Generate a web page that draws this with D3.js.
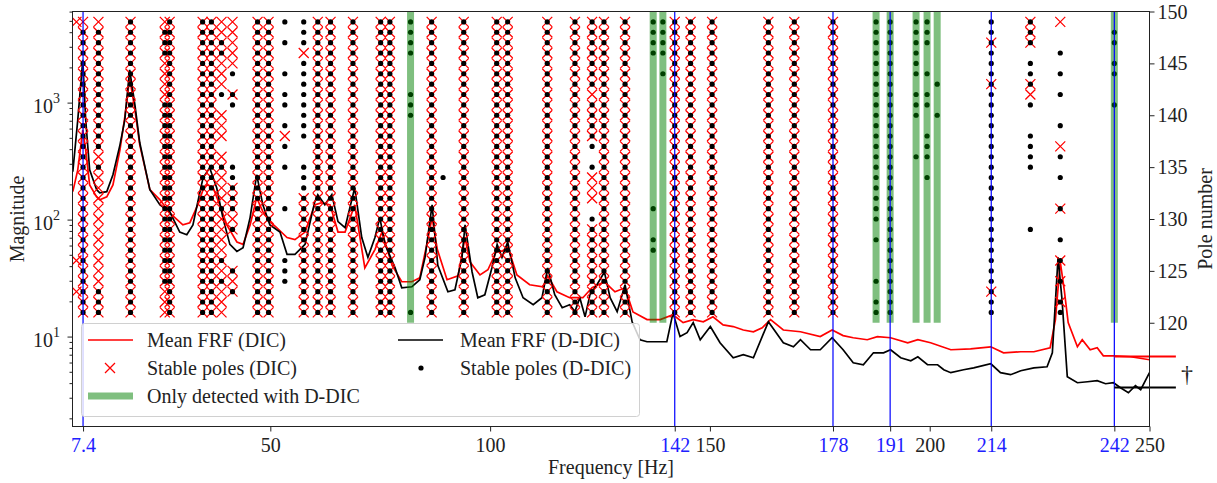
<!DOCTYPE html>
<html>
<head>
<meta charset="utf-8">
<script src="https://cdn.jsdelivr.net/npm/d3@7"></script>
<style>
body { margin: 0; background: #fff; }
text { font-family: "Liberation Serif", "DejaVu Serif", serif; fill: #222; }
</style>
</head>
<body>
<div id="vis"></div>
<script>
// mean FRF, [frequency Hz, magnitude]
var frfDIC = [[5.07,175],[6.2,269],[7.34,590],[8.0,399],[8.9,200],[10.5,158],[11.2,149],[12.8,158],[14.2,200],[15.8,399],[16.9,764],[18.0,1645],[19.2,877],[20.3,440],[22.6,182],[24.9,149],[27.1,115],[30.1,91],[31.7,95],[33.5,135],[34.7,182],[35.6,200],[36.9,193],[38.5,135],[40.1,91],[42.4,65],[43.8,62],[45.4,91],[46.9,155],[48.3,118],[49.9,97],[51.5,86],[53.8,71],[55.6,68],[57.9,79],[60.1,135],[61.7,141],[63.6,135],[65.4,79],[67.0,79],[69.2,135],[71.5,39],[73.8,56],[75.4,79],[77.7,41],[79.9,29.7],[82.2,29.7],[84.0,32.1],[85.6,62],[86.8,105],[88.0,56],[90.2,30.9],[92.7,33.4],[94.3,71],[95.4,44],[97.7,34],[99.5,37.6],[101.6,55.7],[102.7,54],[104.0,59.2],[106.1,34],[109.0,28],[112.0,26.9],[113.1,33.4],[115.2,24.4],[118.1,21.7],[121.1,21.7],[123.2,26.4],[126.0,29.7],[128.4,24.4],[130.7,26.4],[132.5,16.4],[135.7,14.1],[138.7,14.1],[141.6,15.5],[143.9,13.3],[146.2,14.1],[148.5,13.5],[150.7,14.9],[153.0,12.7],[155.3,12.3],[157.6,11.5],[159.9,11.1],[161.9,12.0],[163.8,14.1],[166.7,11.5],[170.6,11.1],[175.1,10.1],[177.8,11.5],[180.3,10.3],[182.6,9.87],[185.8,9.49],[188.1,10.1],[191.1,9.87],[195.0,8.94],[197.3,9.49],[200.2,8.94],[204.8,7.79],[209.3,7.94],[213.9,8.26],[216.8,7.34],[220.7,7.49],[223.7,7.49],[227.4,8.10],[228.6,14.1],[229.7,44],[230.6,25.4],[231.5,13.3],[233.6,8.26],[234.7,9.49],[236.5,7.79],[238.1,8.10],[239.5,6.92],[241.8,6.92],[245.7,6.79],[250,6.40]];

var frfDDIC = [[5.07,259],[6.2,720],[7.34,2344],[8.0,720],[8.9,269],[10.5,182],[11.2,171],[12.8,175],[14.2,244],[15.8,440],[16.9,720],[18.0,1928],[19.2,966],[20.3,458],[22.6,182],[24.9,135],[27.1,118],[29.4,79],[31.0,75],[32.4,91],[33.5,143],[34.7,230],[36.2,280],[37.8,189],[39.2,105],[40.8,62],[42.4,54],[43.8,58],[45.4,105],[46.9,244],[48.3,135],[49.9,91],[52.2,79],[53.8,51],[55.6,51],[57.9,62],[60.1,143],[60.8,165],[62.4,135],[64.0,165],[65.4,97],[67.0,86],[69.2,189],[70.8,71],[72.2,48],[73.8,71],[74.9,105],[76.1,62],[78.4,39],[79.9,26.4],[82.2,26.9],[84.0,30.9],[85.2,48],[86.8,135],[88.1,41],[90.4,24.4],[92.0,25.4],[93.6,48],[94.3,91],[95.9,36],[97.2,21.7],[98.8,23],[100.4,39],[101.6,62],[102.7,48],[104.0,65],[105.7,32.1],[107.5,21.7],[109.8,18.9],[111.8,21.7],[113.1,39],[114.7,23],[116.4,17.8],[118.1,18.9],[119.3,16.5],[120.4,21.7],[121.6,14.9],[122.7,23],[124.3,28],[126.0,36],[127.3,21.7],[128.9,16.5],[130.7,28],[132.3,13.5],[134.1,9.49],[135.7,9.12],[140.2,9.12],[141.6,16.1],[143.2,10.1],[144.8,10.9],[146.2,13.3],[147.8,9.49],[150.1,12.3],[152.3,8.94],[155.3,6.66],[157.6,7.06],[159.9,6.66],[163.3,13.5],[166.7,8.94],[169.0,8.26],[170.6,9.49],[172.9,7.79],[175.1,7.79],[177.8,9.87],[180.3,7.79],[182.6,6.03],[184.9,5.80],[187.2,7.34],[189.5,7.34],[191.1,7.79],[193.4,6.66],[195.7,6.27],[197.3,6.79],[199.5,5.80],[201.8,5.80],[203.2,5.26],[204.8,4.96],[207.7,5.26],[210.0,5.46],[213.9,5.91],[216.1,4.96],[218.4,4.77],[220.7,5.15],[223.7,5.46],[226.7,5.57],[227.9,7.34],[229.2,48],[230.1,20.9],[231.3,4.58],[233.6,4.07],[235.9,4.15],[238.1,4.24],[240.0,3.99],[241.8,4.07],[243.4,3.69],[245.2,3.34],[246.8,3.84],[248.0,3.55],[250,4.96]];

// the two short level lines marked with a dagger, from 242 Hz out past the axis
var daggerLevels = [6.82, 3.71];
var daggerFrom = 242, daggerTo = 256;

// stabilisation diagram: one entry per pole column, pole numbers as ranges
var poleFreqs = [5.9, 7.4, 10.9, 18.2, 26.0, 27.1, 34.6, 36.6, 38.9, 41.4, 47.1, 49.6, 53.3, 57.6, 60.8, 63.7, 68.8, 75.1, 77.2, 81.9, 86.7, 89.3, 94.0, 101.5, 104.0, 113.0, 119.3, 123.2, 125.9, 130.7, 137.1, 139.3, 142, 145.6, 150.5, 163.3, 169.2, 178, 187.8, 191, 196.9, 199.4, 201.7, 214, 222.9, 229.7, 242];
var dicPoles = ["123,126,149", "121-149", "121-149", "121-149", "121-149", "121-149", "121-149", "121-149", "121-136,138-140,143-149", "123-125,129-133,142,145-149", "121-149", "121-149", "138", "121-132,146", "121-149", "121-149", "121-149", "121-149", "121-149", "", "121-149", "", "121-149", "121-149", "121-149", "121-149", "121-149", "121-129,132-134,138-149", "121-149", "121-149", "", "", "121-149", "121-149", "121-149", "121-149", "121-149", "121-149", "", "", "", "", "", "123,143,147", "142,143,147-149", "122,124,126,131,137,149", ""];
var ddicPoles = ["", "121-148", "121-123,135,137-148", "121-149", "124-141,146-148", "121-149", "121-149", "121-149", "124,126,131,135,142,146,147", "123,125,129,131-135,141,142,144", "121-149", "121-149", "124-126,131,135,137,139,141,142,144,147,149", "121-135,138-145,147-149", "121-149", "121-149", "121-149", "121-149", "121-149", "121,140-142,146-149", "121-149", "134", "121-149", "121-149", "121-149", "121-149", "121-149", "121-130,135,137-141,143-149", "121-149", "121-149", "127,128,131,146-149", "144,146-149", "121-149", "121-149", "121-149", "121-149", "121-149", "121-149", "121,122,124,128,130-149", "121-149", "136,140-142,144-149", "134,136-138,141,142,144,147-149", "140,143", "121-149", "129,135-138,141,143-145,147-149", "121,122,124,126,128,131,134,136,139,142,144,146", "141,144,145,147,148"];

// modes only found with D-DIC (green) and the highlighted modes (blue)
var greenFreqs = [81.9, 137.1, 139.3, 187.8, 191, 196.9, 199.4, 201.7, 242];
var markedFreqs = [7.4, 142, 178, 191, 214, 242];

var xTicks = [7.4, 50, 100, 142, 150, 178, 191, 200, 214, 242, 250];
var poleTicks = [120, 125, 130, 135, 140, 145, 150];
var magTicks = [10, 100, 1000];
var magExp = ["1", "2", "3"];


var width = 1217;
var height = 483;
var L = 72.5, R = 1149.5, T = 11.5, B = 426.5;
var FS = "20px";

var expand = function(s) {
  var out = [];
  if (!s) return out;
  s.split(",").forEach(function(part) {
    var ab = part.split("-").map(Number);
    if (ab.length === 1) {
      out.push(ab[0]);
    } else {
      for (var p = ab[0]; p <= ab[1]; p++) out.push(p);
    }
  });
  return out;
};

var svg = d3.select("#vis").append("svg").attr("width", width).attr("height", height);

var x = d3.scaleLinear().domain([5, 250]).range([L, R]);
var yMag = d3.scaleLog().domain([1.72, 6070]).range([B, T]);
var yPole = d3.scaleLinear().domain([110, 150]).range([B, T]);

svg.append("defs").append("clipPath").attr("id", "plotclip")
  .append("rect").attr("x", L).attr("y", T).attr("width", R - L).attr("height", B - T);

var plot = svg.append("g").attr("clip-path", "url(#plotclip)");

// FRF curves
var line = d3.line().x(function(d) { return x(d[0]); }).y(function(d) { return yMag(d[1]); });
plot.append("path").datum(frfDIC).attr("d", line)
  .style("fill", "none").style("stroke", "#ff0000").style("stroke-width", 1.7);
plot.append("path").datum(frfDDIC).attr("d", line)
  .style("fill", "none").style("stroke", "#000").style("stroke-width", 1.7);

// stable poles
var dicPts = [], ddicPts = [];
poleFreqs.forEach(function(f, i) {
  expand(dicPoles[i]).forEach(function(p) { dicPts.push([f, p]); });
  expand(ddicPoles[i]).forEach(function(p) { ddicPts.push([f, p]); });
});

plot.selectAll(".xmark").data(dicPts).enter().append("path")
  .attr("class", "xmark")
  .attr("transform", function(d) { return "translate(" + x(d[0]) + "," + yPole(d[1]) + ")"; })
  .attr("d", "M-5,-5L5,5M-5,5L5,-5")
  .style("fill", "none").style("stroke", "#ff0000").style("stroke-width", 1.25);

plot.selectAll(".dot").data(ddicPts).enter().append("circle")
  .attr("class", "dot")
  .attr("cx", function(d) { return x(d[0]); })
  .attr("cy", function(d) { return yPole(d[1]); })
  .attr("r", 2.6)
  .style("fill", "#000");

// only detected with D-DIC
plot.selectAll(".only").data(greenFreqs).enter().append("line")
  .attr("class", "only")
  .attr("x1", function(d) { return x(d); }).attr("x2", function(d) { return x(d); })
  .attr("y1", yPole(120)).attr("y2", yPole(150))
  .style("stroke", "#008000").style("stroke-opacity", 0.5).style("stroke-width", 7);

// highlighted modes
plot.selectAll(".marked").data(markedFreqs).enter().append("line")
  .attr("class", "marked")
  .attr("x1", function(d) { return x(d); }).attr("x2", function(d) { return x(d); })
  .attr("y1", T).attr("y2", B)
  .style("stroke", "#0000ff").style("stroke-width", 1.2);

// dagger lines (drawn outside the axes on purpose)
svg.selectAll(".dagger").data(daggerLevels).enter().append("line")
  .attr("x1", x(daggerFrom)).attr("x2", x(daggerTo))
  .attr("y1", function(d) { return yMag(d); }).attr("y2", function(d) { return yMag(d); })
  .style("stroke", function(d, i) { return i === 0 ? "#ff0000" : "#000"; })
  .style("stroke-width", 2);
svg.append("text").attr("x", 1187).attr("y", 382).attr("text-anchor", "middle")
  .style("font-size", "24px").text("\u2020");

// frame
svg.append("rect").attr("x", L).attr("y", T).attr("width", R - L).attr("height", B - T)
  .style("fill", "none").style("stroke", "#222").style("stroke-width", 1);

// bottom axis
var xAxis = svg.append("g").attr("transform", "translate(0," + B + ")")
  .call(d3.axisBottom(x).tickValues(xTicks).tickSize(5).tickFormat(function(d) { return d; }));
xAxis.select(".domain").remove();
xAxis.selectAll("line").style("stroke", "#222");
xAxis.selectAll("text")
  .attr("y", 25).attr("dy", 0)
  .style("font-size", FS)
  .style("font-family", "Liberation Serif")
  .style("fill", function(d) { return markedFreqs.indexOf(d) !== -1 ? "#2020ff" : "#222"; });

// left log axis, minor ticks
var minor = [];
[1, 10, 100, 1000].forEach(function(dec) {
  for (var k = 2; k <= 9; k++) {
    var v = dec * k;
    if (v > 1.72 && v < 6070) minor.push(v);
  }
});
svg.selectAll(".minor").data(minor).enter().append("line")
  .attr("x1", L - 3).attr("x2", L)
  .attr("y1", function(d) { return yMag(d); }).attr("y2", function(d) { return yMag(d); })
  .style("stroke", "#222");
svg.selectAll(".major").data(magTicks).enter().append("line")
  .attr("x1", L - 5).attr("x2", L)
  .attr("y1", function(d) { return yMag(d); }).attr("y2", function(d) { return yMag(d); })
  .style("stroke", "#222");
var magLabels = svg.selectAll(".maglab").data(magTicks).enter().append("text")
  .attr("x", 60).attr("y", function(d) { return yMag(d) + 10; })
  .attr("text-anchor", "end")
  .style("font-size", FS);
magLabels.append("tspan").text("10");
magLabels.append("tspan").attr("dy", -10).style("font-size", "14px")
  .text(function(d, i) { return magExp[i]; });

// right pole axis
var yAxis = svg.append("g").attr("transform", "translate(" + R + ",0)")
  .call(d3.axisRight(yPole).tickValues(poleTicks).tickSize(5).tickPadding(3));
yAxis.select(".domain").remove();
yAxis.selectAll("line").style("stroke", "#222");
yAxis.selectAll("text").attr("dy", 6.5).style("font-size", FS).style("font-family", "Liberation Serif");

// axis titles
svg.append("text").attr("x", (L + R) / 2).attr("y", 474).attr("text-anchor", "middle")
  .style("font-size", FS).text("Frequency [Hz]");
svg.append("text").attr("transform", "translate(24," + (T + B) / 2 + ") rotate(-90)")
  .attr("text-anchor", "middle").style("font-size", FS).text("Magnitude");
svg.append("text").attr("transform", "translate(1212," + (T + B) / 2 + ") rotate(-90)")
  .attr("text-anchor", "middle").style("font-size", FS).text("Pole number");

/**
 * Legend
 */
var legend = svg.append("g");
legend.append("rect").attr("x", 81.5).attr("y", 323.5).attr("width", 558).attr("height", 93).attr("rx", 3)
  .style("fill", "#fff").style("fill-opacity", 0.8).style("stroke", "#d0d0d0");

var rowY = [340, 368, 396];
legend.append("line").attr("x1", 88).attr("x2", 133).attr("y1", rowY[0]).attr("y2", rowY[0])
  .style("stroke", "#ff0000").style("stroke-width", 1.7);
legend.append("path").attr("transform", "translate(110," + rowY[1] + ")")
  .attr("d", "M-5,-5L5,5M-5,5L5,-5").style("stroke", "#ff0000").style("stroke-width", 1.25);
legend.append("line").attr("x1", 88).attr("x2", 133).attr("y1", rowY[2]).attr("y2", rowY[2])
  .style("stroke", "#008000").style("stroke-opacity", 0.5).style("stroke-width", 7);
legend.append("line").attr("x1", 398).attr("x2", 443).attr("y1", rowY[0]).attr("y2", rowY[0])
  .style("stroke", "#000").style("stroke-width", 1.7);
legend.append("circle").attr("cx", 421).attr("cy", rowY[1]).attr("r", 2.6).style("fill", "#000");

var legTexts = [
  [147, rowY[0], "Mean FRF (DIC)"],
  [147, rowY[1], "Stable poles (DIC)"],
  [147, rowY[2], "Only detected with D-DIC"],
  [460, rowY[0], "Mean FRF (D-DIC)"],
  [460, rowY[1], "Stable poles (D-DIC)"]
];
legTexts.forEach(function(t) {
  legend.append("text").attr("x", t[0]).attr("y", t[1] + 7).style("font-size", FS).text(t[2]);
});
</script>
</body>
</html>
